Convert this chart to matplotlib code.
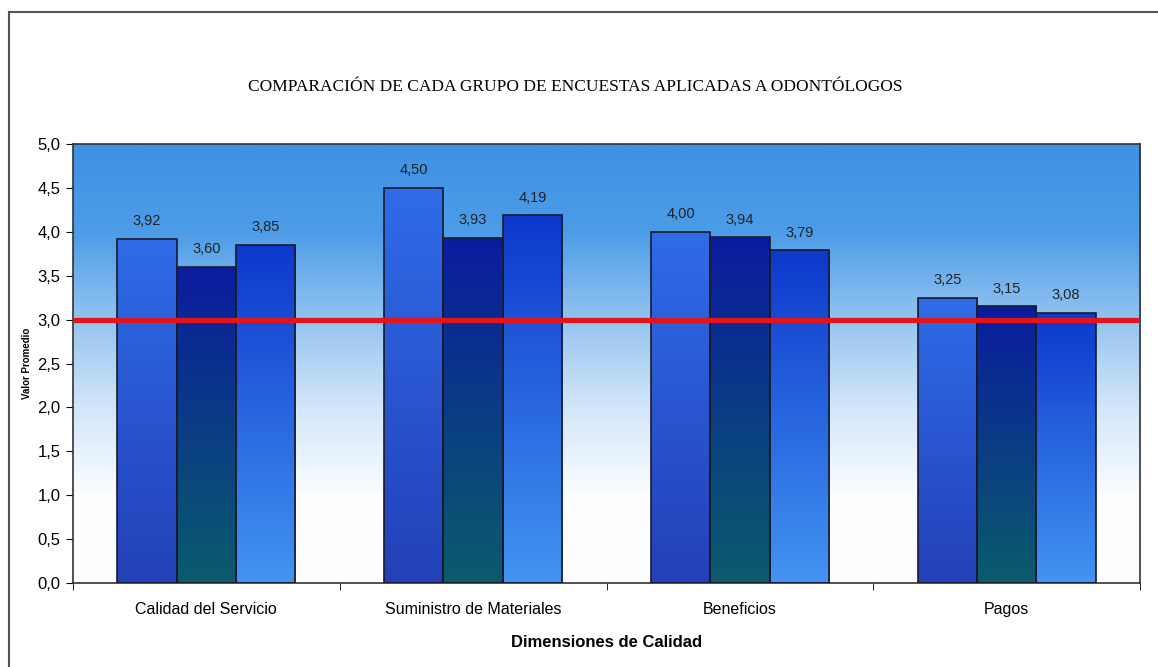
import numpy as np
import matplotlib
matplotlib.use("Agg")
from matplotlib import pyplot as plt
from matplotlib.colors import LinearSegmentedColormap
from matplotlib.lines import Line2D

categories = ["Calidad del Servicio", "Suministro de Materiales", "Beneficios", "Pagos"]
grupo_1 = [3.92, 4.50, 4.00, 3.25]
grupo_2 = [3.60, 3.93, 3.94, 3.15]
grupo_3 = [3.85, 4.19, 3.79, 3.08]
referencia = 3.0
y_ticks = [0.0, 0.5, 1.0, 1.5, 2.0, 2.5, 3.0, 3.5, 4.0, 4.5, 5.0]

# gradient (top colour, bottom colour) for each series
series_grad = [("#2f6ce8", "#2340b8"),
               ("#0a1c9e", "#0b5c6c"),
               ("#0d38cc", "#4294f2")]

plt.rcParams["font.family"] = ["Liberation Sans", "DejaVu Sans"]

fig = plt.figure(figsize=(11.58, 6.67), dpi=100)
ax = fig.add_axes([0.063, 0.126, 0.9215, 0.658])

n = len(categories)
x = np.arange(n)
w = 1 / 4.5
ax.set_xlim(-0.5, n - 0.5)
ax.set_ylim(0, 5)

# plot area background: blue at top fading to white
bg = LinearSegmentedColormap.from_list("bg", ["#ffffff", "#fbfdff", "#d2e6f8", "#94c4f0", "#4c9ce7", "#3f91e4"])
grad = np.linspace(0, 1, 256).reshape(-1, 1)
ax.imshow(grad, aspect="auto", cmap=bg, origin="lower",
          extent=[-0.5, n - 0.5, 0, 5], zorder=0)

for i, vals in enumerate([grupo_1, grupo_2, grupo_3]):
    bars = ax.bar(x + (i - 1) * w, vals, width=w, facecolor="none",
                  edgecolor="#1a1a2a", linewidth=1.2, zorder=3)
    cmap = LinearSegmentedColormap.from_list("s%d" % i, [series_grad[i][1], series_grad[i][0]])
    for b, v in zip(bars, vals):
        im = ax.imshow(grad, aspect="auto", cmap=cmap, origin="lower",
                       extent=[b.get_x(), b.get_x() + b.get_width(), 0, v], zorder=2)
        im.set_clip_path(b)
        ax.text(b.get_x() + b.get_width() / 2, v + 0.12, ("%.2f" % v).replace(".", ","),
                ha="center", va="bottom", fontsize=10.5, color="#222222", zorder=5)

ax.axhline(referencia, color="#e3141b", linewidth=3.8, zorder=4)

ax.set_yticks(y_ticks)
ax.set_yticklabels([("%.1f" % t).replace(".", ",") for t in y_ticks], fontsize=12)
ax.set_xticks(x)
ax.set_xticklabels(categories, fontsize=11.5)
ax.set_xticks(np.arange(n + 1) - 0.5, minor=True)
ax.tick_params(axis="x", which="major", length=0, pad=14)
ax.tick_params(axis="x", which="minor", length=5, direction="out")
ax.tick_params(axis="y", length=5, direction="out", pad=4)
for s in ax.spines.values():
    s.set_color("#333333")
    s.set_linewidth(1.2)

ax.set_xlabel("Dimensiones de Calidad", fontsize=12, fontweight="bold", labelpad=13)
ax.set_ylabel("Valor Promedio", fontsize=7, fontweight="bold", labelpad=4)

fig.text(0.497, 0.869, "COMPARACIÓN DE CADA GRUPO DE ENCUESTAS APLICADAS A ODONTÓLOGOS",
         ha="center", va="center", fontsize=12.5, family="Liberation Serif")

# outer chart frame
fig.add_artist(Line2D([0.008, 1.0], [0.982, 0.982], color="#555555", linewidth=1.5))
fig.add_artist(Line2D([0.008, 0.008], [0.0, 0.982], color="#555555", linewidth=1.5))

fig.savefig("out.png", dpi=100)
